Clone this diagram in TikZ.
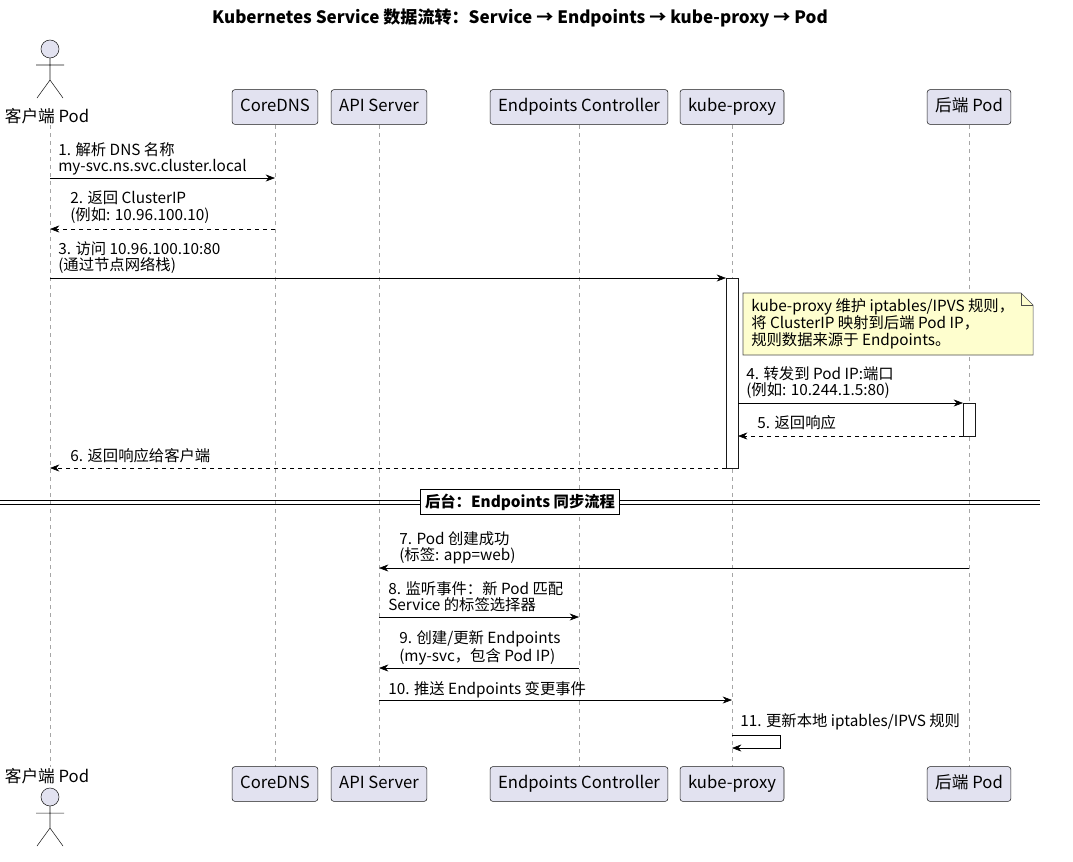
\documentclass[tikz,border=0pt]{standalone}
\usepackage{fontspec}
\setmainfont{Noto Sans CJK SC}
\usetikzlibrary{calc, arrows.meta, positioning}
\definecolor{partfill}{HTML}{E2E2F0}
\definecolor{notefill}{HTML}{FEFECE}
\tikzset{
  part/.style = {draw=black!90, fill=partfill, rounded corners=2pt, minimum height=26pt, inner xsep=6pt, text height=9pt, text depth=3pt, font=\fontsize{12.5}{14}\selectfont},
  msg/.style = {-{Stealth[length=7pt]}, thin},
  reply/.style = {msg, dashed},
  lbl/.style = {anchor=north west, align=left, inner sep=0pt, font=\fontsize{11.5}{12.3}\selectfont},
  life/.style = {dashed, gray!70, thin},
  act/.style = {draw=black!90, fill=white}
}
\newcommand{\stick}[2]{% actor figure at top of head
  \draw[fill=partfill, draw=black!90] (#1,#2+9) circle (9);
  \draw[black!90] (#1,#2+18) -- (#1,#2+40) (#1-14,#2+25) -- (#1+14,#2+25)
    (#1,#2+40) -- (#1-13,#2+58) (#1,#2+40) -- (#1+13,#2+58);
}
\begin{document}
\begin{tikzpicture}[x=0.75pt, y=-0.75pt]
  \useasboundingbox (0,0) rectangle (1073,861);
  \node[font=\bfseries\fontsize{12.8}{14}\selectfont] (title) at (520,18) {Kubernetes Service 数据流转：Service → Endpoints → kube-proxy → Pod};

  % lifelines
  \foreach \x in {50,275,379,579,732,969} {
    \draw[life] (\x,125) -- (\x,767);
  };

  % participants
  \foreach \n/\x/\t in {dns/275/CoreDNS, api/379/API Server, epc/579/Endpoints Controller, kp/732/kube-proxy, pod/969/后端 Pod} {
    \node[part] (\n) at (\x,107) {\t};
    \node[part] (\n b) at (\x,784) {\t};
  };
  \stick{50}{40}
  \node[font=\fontsize{12.5}{14}\selectfont] (cli) at (47,116) {客户端 Pod};
  \node[font=\fontsize{12.5}{14}\selectfont] (cli b) at (47,776) {客户端 Pod};
  \stick{50}{788}

  % activations
  \draw[act] (726,278) rectangle (738,468);
  \draw[act] (963,403) rectangle (975,436);

  % note
  \draw[draw=black!70, fill=notefill] (743,293) -- (1021,293) -- (1033,305) -- (1033,355) -- (743,355) -- cycle;
  \draw[draw=black!70] (1021,293) -- (1021,305) -- (1033,305);
  \node[lbl] (note) at (751,298) {kube-proxy 维护 iptables/IPVS 规则，\\将 ClusterIP 映射到后端 Pod IP，\\规则数据来源于 Endpoints。};

  % messages
  \draw[msg] (50,178) -- (275,178);
  \node[lbl] (m1) at (58,142) {1. 解析 DNS 名称\\my-svc.ns.svc.cluster.local};
  \draw[reply] (275,229) -- (50,229);
  \node[lbl] (m2) at (70,191) {2. 返回 ClusterIP\\(例如: 10.96.100.10)};
  \draw[msg] (50,278) -- (726,278);
  \node[lbl] (m3) at (58,241) {3. 访问 10.96.100.10:80\\(通过节点网络栈)};
  \draw[msg] (738,403) -- (963,403);
  \node[lbl] (m4) at (746,366) {4. 转发到 Pod IP:端口\\(例如: 10.244.1.5:80)};
  \draw[reply] (963,436) -- (738,436);
  \node[lbl] (m5) at (757,415) {5. 返回响应};
  \draw[reply] (726,468) -- (50,468);
  \node[lbl] (m6) at (70,448) {6. 返回响应给客户端};

  % divider
  \draw[thin] (0,500) -- (1040,500) (0,504) -- (1040,504);
  \node[draw, thick, fill=white, inner ysep=3pt, font=\bfseries\fontsize{11.5}{13}\selectfont] (sync) at (520,502) {后台：Endpoints 同步流程};

  \draw[msg] (969,568) -- (379,568);
  \node[lbl] (m7) at (399,531) {7. Pod 创建成功\\(标签: app=web)};
  \draw[msg] (379,617) -- (579,617);
  \node[lbl] (m8) at (388,581) {8. 监听事件：新 Pod 匹配\\Service 的标签选择器};
  \draw[msg] (579,668) -- (379,668);
  \node[lbl] (m9) at (399,630) {9. 创建/更新 Endpoints\\(my-svc，包含 Pod IP)};
  \draw[msg] (379,700) -- (732,700);
  \node[lbl] (m10) at (388,681) {10. 推送 Endpoints 变更事件};
  \draw[msg] (732,735) -- (780,735) -- (780,748) -- (732,748);
  \node[lbl] (m11) at (740,713) {11. 更新本地 iptables/IPVS 规则};
\end{tikzpicture}
\end{document}
